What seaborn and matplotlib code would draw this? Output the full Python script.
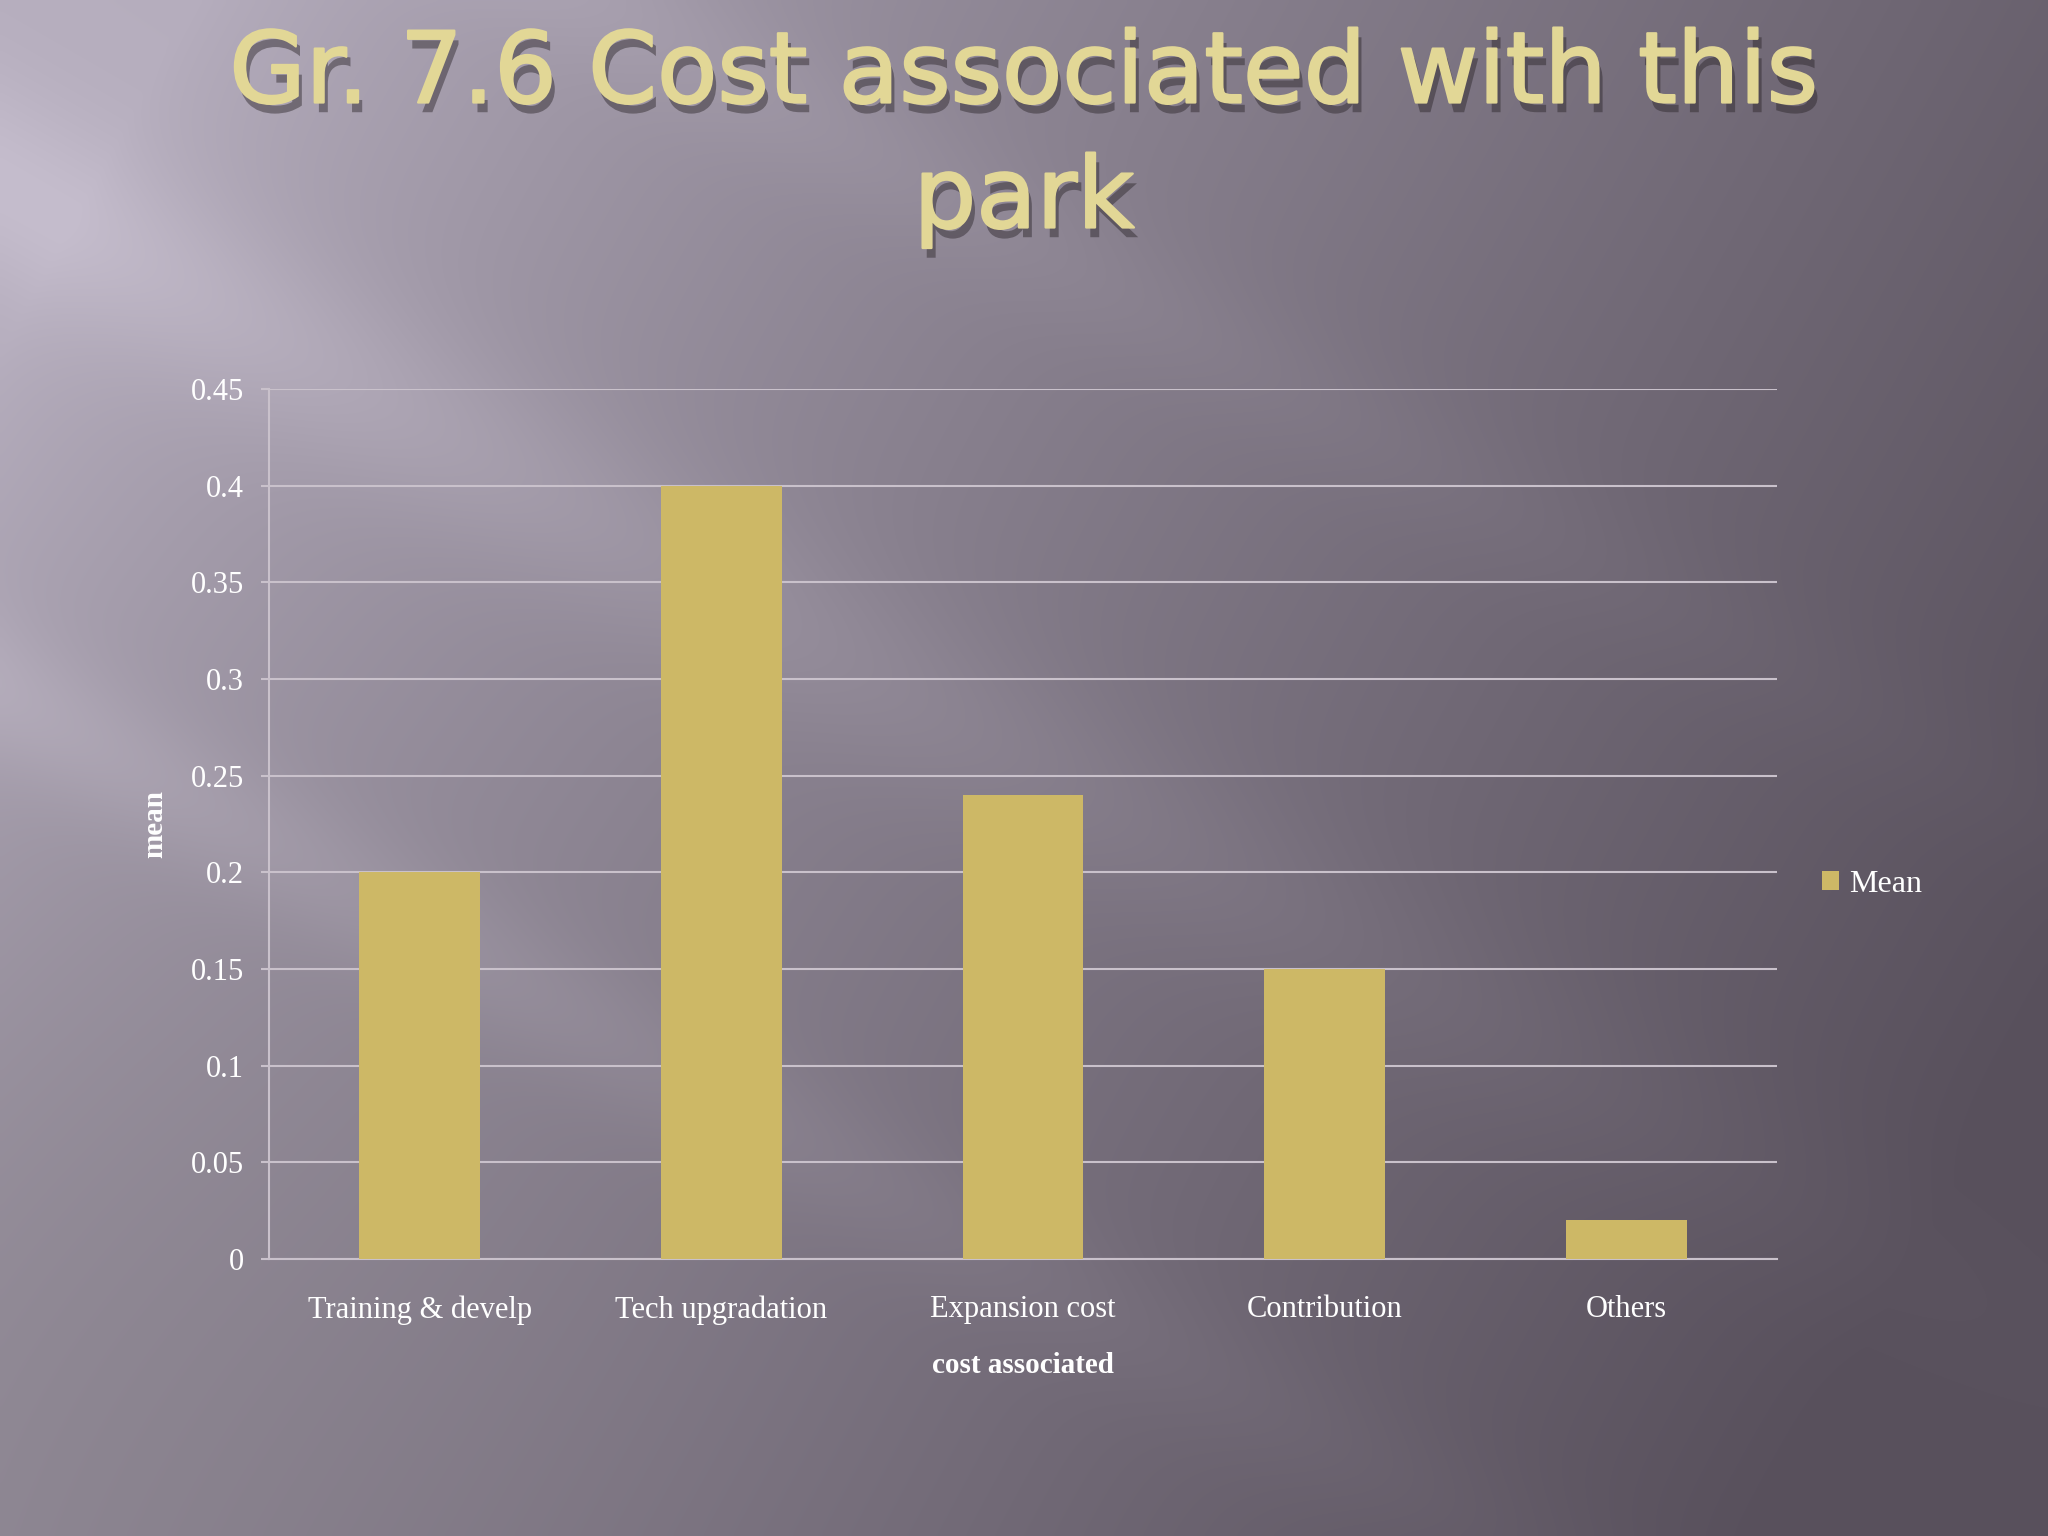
import numpy as np
import pandas as pd
import matplotlib
matplotlib.use("Agg")
import matplotlib.pyplot as plt
import matplotlib.patheffects as pe
from matplotlib.ticker import FixedLocator
import seaborn as sns

# data
categories = ["Training & develp", "Tech upgradation", "Expansion cost", "Contribution", "Others"]
mean_values = [0.20, 0.40, 0.24, 0.15, 0.02]
y_ticks = [0, 0.05, 0.1, 0.15, 0.2, 0.25, 0.3, 0.35, 0.4, 0.45]
y_tick_labels = ["0", "0.05", "0.1", "0.15", "0.2", "0.25", "0.3", "0.35", "0.4", "0.45"]

df = pd.DataFrame({"category": categories, "mean": mean_values})

sns.set_theme(style="white")
plt.rcParams["font.family"] = ["Liberation Serif", "DejaVu Serif"]

bar_color = "#CDB866"
line_color = "#C9C1CB"
text_color = "white"
title_color = "#E2D796"

fig = plt.figure(figsize=(20.48, 15.36), dpi=100)

# slide background: purple-grey gradient with soft diagonal light streaks
bg = fig.add_axes([0, 0, 1, 1])
h, w = 384, 512
yy, xx = np.mgrid[0:h, 0:w]
u = xx / w
v = yy / h
light = np.array([182, 174, 190]) / 255
dark = np.array([88, 80, 92]) / 255
t = np.clip(0.85 * u + 0.35 * v - 0.08, 0, 1) ** 0.8
img = light[None, None, :] * (1 - t[..., None]) + dark[None, None, :] * t[..., None]
# bottom-left greyish
gl = np.exp(-((u - 0.0) ** 2 / 0.08 + (v - 0.9) ** 2 / 0.15))
img = img * (1 - 0.3 * gl[..., None]) + (np.array([122, 117, 123]) / 255)[None, None, :] * 0.3 * gl[..., None]
# diagonal streaks
d1 = (u * 0.75 - v * 1.0 + 0.12)
img += 0.06 * np.exp(-(d1 / 0.07) ** 2)[..., None] * np.clip(1.1 - u, 0, 1)[..., None]
d2 = (u * 0.75 - v * 1.0 + 0.45)
img += 0.05 * np.exp(-(d2 / 0.05) ** 2)[..., None] * np.clip(1.0 - u, 0, 1)[..., None]
d3 = (u * 0.75 - v * 1.0 - 0.22)
img += 0.035 * np.exp(-(d3 / 0.05) ** 2)[..., None] * np.clip(1.2 - u, 0, 1)[..., None]
img = np.clip(img, 0, 1)
bg.imshow(img, aspect="auto", extent=[0, 1, 0, 1], interpolation="bicubic")
bg.set_xlim(0, 1)
bg.set_ylim(0, 1)
bg.axis("off")

# title with drop shadow
title_fx = [pe.withSimplePatchShadow(offset=(3, -7), shadow_rgbFace="#2a2428", alpha=0.45),
            pe.Stroke(linewidth=1.6, foreground=title_color), pe.Normal()]
for txt, ypos in [("Gr. 7.6 Cost associated with this", 1 - 75 / 1536), ("park", 1 - 200 / 1536)]:
    fig.text(0.5, ypos, txt, ha="center", va="center", fontsize=71,
             color=title_color, family=["DejaVu Sans"], path_effects=title_fx)

ax = fig.add_axes([269 / 2048, 1 - 1259 / 1536, (1777 - 269) / 2048, (1259 - 389) / 1536])
ax.patch.set_alpha(0)
sns.barplot(data=df, x="category", y="mean", color=bar_color, width=0.4,
            saturation=1, label="Mean", ax=ax, zorder=3, linewidth=0, edgecolor="none")

ax.set_xlim(-0.5, len(categories) - 0.5)
ax.set_ylim(0, 0.45)
ax.set_yticks(y_ticks)
ax.set_yticklabels(y_tick_labels)
ax.yaxis.grid(True, color=line_color, linewidth=1.5, zorder=0)
ax.set_axisbelow(True)

for s in ["top", "right"]:
    ax.spines[s].set_visible(False)
for s in ["left", "bottom"]:
    ax.spines[s].set_color(line_color)
    ax.spines[s].set_linewidth(1.5)

ax.xaxis.set_minor_locator(FixedLocator(np.arange(-0.5, len(categories), 1.0)))
ax.tick_params(axis="x", which="major", length=0, pad=26, labelsize=22, labelcolor=text_color)
ax.tick_params(axis="x", which="minor", length=7, width=1.5, color=line_color, direction="out")
ax.tick_params(axis="y", which="major", length=6, width=1.5, color=line_color, direction="out",
               pad=12, labelsize=22, labelcolor=text_color, left=True)

ax.set_xlabel("cost associated", fontsize=21, fontweight="bold", color=text_color, labelpad=20)
ax.set_ylabel("mean", fontsize=21, fontweight="bold", color=text_color, labelpad=16)

handles, labels = ax.get_legend_handles_labels()
if ax.get_legend() is not None:
    ax.get_legend().remove()
fig.legend(handles[:1], labels[:1], loc="center left", bbox_to_anchor=(1793 / 2048, 1 - 884 / 1536),
           frameon=False, fontsize=23, labelcolor=text_color, handlelength=0.55, handleheight=0.55,
           handletextpad=0.3)

fig.savefig("out.png", dpi=100)
